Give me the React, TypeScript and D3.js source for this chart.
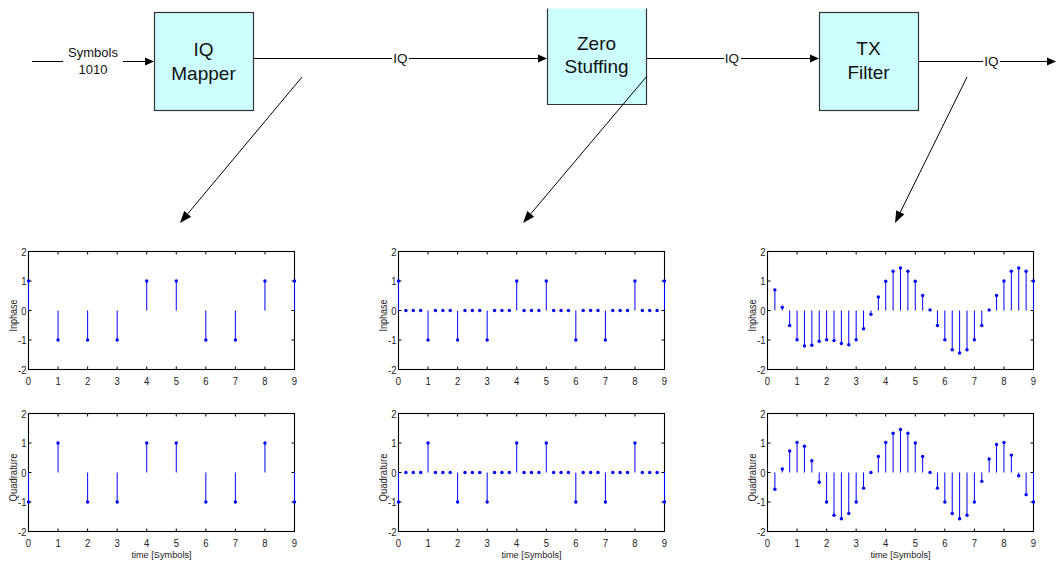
import React from "react";
import * as d3 from "d3";

// ---- data ----
const symbolTimes = [0, 1, 2, 3, 4, 5, 6, 7, 8, 9];
const mapperI = [1, -1, -1, -1, 1, 1, -1, -1, 1, 1];
const mapperQ = [-1, 1, -1, -1, 1, 1, -1, -1, 1, -1];

const stuffedTimes = [
  0, 0.25, 0.5, 0.75, 1, 1.25, 1.5, 1.75, 2, 2.25, 2.5, 2.75, 3, 3.25, 3.5, 3.75,
  4, 4.25, 4.5, 4.75, 5, 5.25, 5.5, 5.75, 6, 6.25, 6.5, 6.75, 7, 7.25, 7.5, 7.75,
  8, 8.25, 8.5, 8.75, 9,
];
const stuffedI = [
  1, 0, 0, 0, -1, 0, 0, 0, -1, 0, 0, 0, -1, 0, 0, 0, 1, 0, 0, 0, 1, 0, 0, 0,
  -1, 0, 0, 0, -1, 0, 0, 0, 1, 0, 0, 0, 1,
];
const stuffedQ = [
  -1, 0, 0, 0, 1, 0, 0, 0, -1, 0, 0, 0, -1, 0, 0, 0, 1, 0, 0, 0, 1, 0, 0, 0,
  -1, 0, 0, 0, -1, 0, 0, 0, 1, 0, 0, 0, -1,
];

const filterTimes = [
  0.25, 0.5, 0.75, 1, 1.25, 1.5, 1.75, 2, 2.25, 2.5, 2.75, 3, 3.25, 3.5, 3.75,
  4, 4.25, 4.5, 4.75, 5, 5.25, 5.5, 5.75, 6, 6.25, 6.5, 6.75, 7, 7.25, 7.5, 7.75,
  8, 8.25, 8.5, 8.75, 9,
];
const filteredI = [
  0.7, 0.11, -0.51, -0.99, -1.2, -1.18, -1.04, -0.99, -1.02, -1.12, -1.16, -0.99,
  -0.62, -0.13, 0.46, 0.99, 1.33, 1.44, 1.33, 0.99, 0.51, 0.02, -0.51, -0.99,
  -1.33, -1.44, -1.33, -0.99, -0.51, 0.02, 0.51, 1.0, 1.33, 1.44, 1.33, 1.0,
];
const filteredQ = [
  -0.57, 0.12, 0.73, 1.02, 0.89, 0.4, -0.33, -1.0, -1.45, -1.57, -1.39, -1.0,
  -0.53, 0.0, 0.54, 1.02, 1.33, 1.46, 1.33, 1.0, 0.54, 0.0, -0.53, -1.0,
  -1.39, -1.57, -1.45, -1.0, -0.3, 0.46, 0.95, 1.02, 0.59, -0.11, -0.75, -1.0,
];

const xTicks = [0, 1, 2, 3, 4, 5, 6, 7, 8, 9];
const yTicks = [-2, -1, 0, 1, 2];
const xLabel = "time [Symbols]";
const yLabels = ["Inphase", "Quadrature"];

const blockNames = [["IQ", "Mapper"], ["Zero", "Stuffing"], ["TX", "Filter"]];
const inputLabel = ["Symbols", "1010"];
const linkLabel = "IQ";

// ---- layout ----
const FONT = "'Liberation Sans', Arial, sans-serif";
const PW = 266;
const PH = 118;
const colX = [28, 398, 767];
const rowY = [251, 413];

type PanelProps = {
  x0: number;
  y0: number;
  times: number[];
  values: number[];
  ylabel: string;
  ylabelLen: number;
  showX: boolean;
};

function Panel({ x0, y0, times, values, ylabel, ylabelLen, showX }: PanelProps) {
  const x = d3.scaleLinear().domain([0, 9]).range([0, PW]);
  const y = d3.scaleLinear().domain([-2, 2]).range([PH, 0]);
  const tl = 3;
  return (
    <g transform={`translate(${x0 + 0.5},${y0 + 0.5})`}>
      {/* box */}
      <rect x={0} y={0} width={PW} height={PH} fill="white" stroke="#000" strokeWidth={1.1} />
      {/* ticks */}
      {xTicks.map((t) => (
        <g key={"xt" + t}>
          <line x1={x(t)} x2={x(t)} y1={PH} y2={PH - tl} stroke="#000" />
          <line x1={x(t)} x2={x(t)} y1={0} y2={tl} stroke="#000" />
          <text
            transform={`translate(${x(t)},${PH + 15}) scale(1,1.2)`}
            textAnchor="middle"
            fontFamily={FONT}
            fontSize={9.5}
            fill="#222"
          >
            {t}
          </text>
        </g>
      ))}
      {yTicks.map((t) => (
        <g key={"yt" + t}>
          <line x1={0} x2={tl} y1={y(t)} y2={y(t)} stroke="#000" />
          <line x1={PW} x2={PW - tl} y1={y(t)} y2={y(t)} stroke="#000" />
          <text
            transform={`translate(${-2},${y(t) + 4}) scale(1,1.2)`}
            textAnchor="end"
            fontFamily={FONT}
            fontSize={9.5}
            fill="#222"
          >
            {t}
          </text>
        </g>
      ))}
      {/* stems */}
      {times.map((t, i) => (
        <line
          key={"s" + i}
          x1={x(t)}
          x2={x(t)}
          y1={y(0)}
          y2={y(values[i])}
          stroke="#0000ff"
          strokeWidth={1}
        />
      ))}
      {times.map((t, i) => (
        <circle key={"c" + i} cx={x(t)} cy={y(values[i])} r={1.7} fill="#0000ff" />
      ))}
      <text
        transform={`translate(${-12},${PH / 2 + 5}) rotate(-90)`}
        textAnchor="middle"
        fontFamily={FONT}
        fontSize={10.5}
        textLength={ylabelLen}
        lengthAdjust="spacingAndGlyphs"
        fill="#222"
      >
        {ylabel}
      </text>
      {showX && (
        <text
          x={PW / 2}
          y={PH + 26}
          textAnchor="middle"
          fontFamily={FONT}
          fontSize={9.2}
          fill="#222"
        >
          {xLabel}
        </text>
      )}
    </g>
  );
}

function Arrow({ x1, y1, x2, y2 }: { x1: number; y1: number; x2: number; y2: number }) {
  const ang = Math.atan2(y2 - y1, x2 - x1);
  const L = 12;
  const W = 4.5;
  const bx = x2 - L * Math.cos(ang);
  const by = y2 - L * Math.sin(ang);
  const px = -Math.sin(ang) * W;
  const py = Math.cos(ang) * W;
  return (
    <g>
      <line x1={x1} y1={y1} x2={bx} y2={by} stroke="#000" strokeWidth={1} />
      <path
        d={`M${x2},${y2}L${bx + px},${by + py}L${bx - px},${by - py}Z`}
        fill="#000"
      />
    </g>
  );
}

function HArrow({ x1, x2, y }: { x1: number; x2: number; y: number }) {
  const L = 9;
  return (
    <g>
      <line x1={x1} y1={y + 0.5} x2={x2 - L} y2={y + 0.5} stroke="#000" strokeWidth={1} />
      <path d={`M${x2},${y + 0.5}L${x2 - L},${y + 0.5 - 4}L${x2 - L},${y + 0.5 + 4}Z`} fill="#000" />
    </g>
  );
}

function Block({
  x,
  y,
  w,
  h,
  lines,
  baselines,
  noTop,
}: {
  x: number;
  y: number;
  w: number;
  h: number;
  lines: string[];
  baselines: number[];
  noTop?: boolean;
}) {
  const cx = x + w / 2;
  return (
    <g>
      <rect x={x + 0.5} y={y + 0.5} width={w} height={h} fill="#ccffff" stroke="none" />
      {noTop ? (
        <path
          d={`M${x + 0.5},${y + 0.5}V${y + h + 0.5}H${x + w + 0.5}V${y + 0.5}`}
          fill="none"
          stroke="#333"
          strokeWidth={1.2}
        />
      ) : (
        <rect
          x={x + 0.5}
          y={y + 0.5}
          width={w}
          height={h}
          fill="none"
          stroke="#333"
          strokeWidth={1.2}
        />
      )}
      {lines.map((l, i) => (
        <text
          key={i}
          x={cx}
          y={baselines[i]}
          textAnchor="middle"
          fontFamily={FONT}
          fontSize={19}
          fill="#111"
        >
          {l}
        </text>
      ))}
    </g>
  );
}

function LinkLabel({ x, y }: { x: number; y: number }) {
  return (
    <text x={x} y={y + 5} textAnchor="middle" fontFamily={FONT} fontSize={13.5} fill="#111">
      {linkLabel}
    </text>
  );
}

export default function App() {
  const panels = [
    { times: symbolTimes, I: mapperI, Q: mapperQ },
    { times: stuffedTimes, I: stuffedI, Q: stuffedQ },
    { times: filterTimes, I: filteredI, Q: filteredQ },
  ];
  return (
    <svg
      width={1056}
      height={563}
      style={{ position: "absolute", left: 0, top: 0, background: "white" }}
    >
      <rect width={1056} height={563} fill="white" />
      {/* input */}
      <line x1={32} x2={63} y1={61.5} y2={61.5} stroke="#000" />
      <HArrow x1={123} x2={154} y={61} />
      <text x={93} y={57} textAnchor="middle" fontFamily={FONT} fontSize={13} fill="#111">
        {inputLabel[0]}
      </text>
      <text x={93} y={74} textAnchor="middle" fontFamily={FONT} fontSize={13} fill="#111">
        {inputLabel[1]}
      </text>

      <Block x={154} y={12} w={99} h={98} lines={blockNames[0]} baselines={[56, 80]} />
      <Block x={547} y={8} w={99} h={96} lines={blockNames[1]} baselines={[50, 73]} noTop />
      <Block x={819} y={12} w={99} h={98} lines={blockNames[2]} baselines={[55, 79]} />

      {/* link 1 */}
      <line x1={254} x2={392} y1={58.5} y2={58.5} stroke="#000" />
      <LinkLabel x={400.5} y={58} />
      <HArrow x1={409} x2={547} y={58} />
      {/* link 2 */}
      <line x1={647} x2={724} y1={58.5} y2={58.5} stroke="#000" />
      <LinkLabel x={732} y={58} />
      <HArrow x1={741} x2={819} y={58} />
      {/* output */}
      <line x1={919} x2={983} y1={61.5} y2={61.5} stroke="#000" />
      <LinkLabel x={991.5} y={61} />
      <HArrow x1={1000} x2={1056} y={61} />

      {/* diagonal arrows */}
      <Arrow x1={302} y1={77} x2={180} y2={223} />
      <Arrow x1={647} y1={76} x2={523} y2={223} />
      <Arrow x1={967} y1={77} x2={895} y2={223} />

      {panels.map((p, c) => (
        <g key={c}>
          <Panel
            x0={colX[c]}
            y0={rowY[0]}
            times={p.times}
            values={p.I}
            ylabel={yLabels[0]}
            ylabelLen={32}
            showX={false}
          />
          <Panel
            x0={colX[c]}
            y0={rowY[1]}
            times={p.times}
            values={p.Q}
            ylabel={yLabels[1]}
            ylabelLen={48}
            showX={true}
          />
        </g>
      ))}
    </svg>
  );
}
